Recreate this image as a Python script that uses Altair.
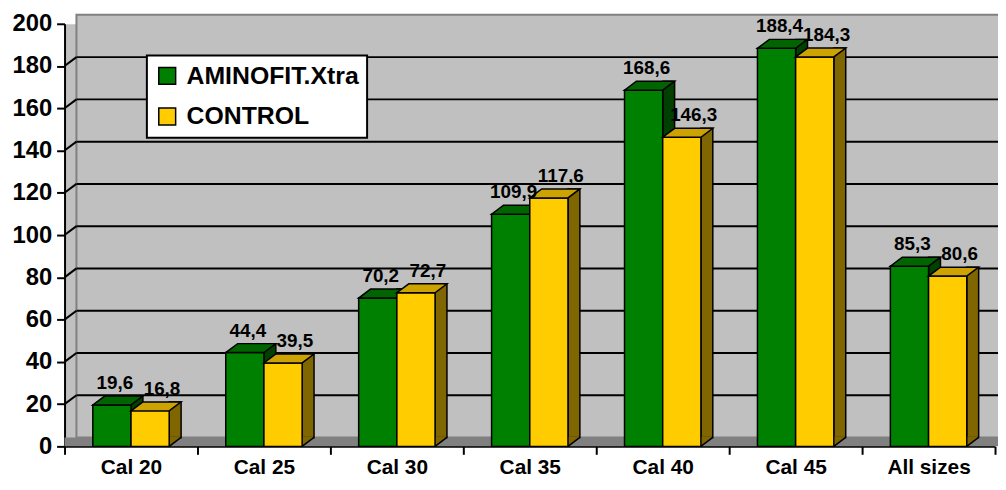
import altair as alt
import pandas as pd

# ---------------- data ----------------
categories = ["Cal 20", "Cal 25", "Cal 30", "Cal 35", "Cal 40", "Cal 45", "All sizes"]
aminofit = [19.6, 44.4, 70.2, 109.9, 168.6, 188.4, 85.3]
control = [16.8, 39.5, 72.7, 117.6, 146.3, 184.3, 80.6]
series_names = ["AMINOFIT.Xtra", "CONTROL"]
y_ticks = [0, 20, 40, 60, 80, 100, 120, 140, 160, 180, 200]
grid_ticks = [20, 40, 60, 80, 100, 120, 140, 160, 180]

# ---------------- styling ----------------
FONT = "Liberation Sans"
W, H = 938, 426
DX, DY = 12, 9          # pseudo-3D depth (px)
BW = 38.5               # bar front width (px)
HB = BW / 2

front_cols = ["#008000", "#FFCC00"]
top_cols = ["#006400", "#CCA300"]
side_cols = ["#004000", "#806600"]
label_dx = [3, 12]

rows = []
for c, a, b in zip(categories, aminofit, control):
    rows.append({"cat": c, "series": series_names[0], "value": a})
    rows.append({"cat": c, "series": series_names[1], "value": b})
df = pd.DataFrame(rows)
df["label"] = df["value"].map(lambda v: f"{v:.1f}".replace(".", ","))
df["zero"] = 0.0

grid_df = pd.DataFrame({"t": grid_ticks})
one_df = pd.DataFrame({"d": [0]})

x_scale = alt.Scale(domain=categories, paddingInner=0, paddingOuter=0)
y_scale = alt.Scale(domain=[0, 200], nice=False)
x_axis = alt.Axis(title=None, labelAngle=0, tickBand="extent", labelFontSize=21,
                  labelPadding=2, tickSize=8)
y_axis = alt.Axis(title=None, values=y_ticks, labelFontSize=24, labelPadding=5,
                  tickSize=8)


def X():
    return alt.X("cat:N", sort=categories, scale=x_scale, axis=x_axis)


def Y(field="value"):
    return alt.Y(f"{field}:Q", scale=y_scale, axis=y_axis)


# ---------------- background "3D" walls ----------------
back_wall = alt.Chart(one_df).mark_rect(
    fill="#C0C0C0", stroke="#808080", strokeWidth=2
).encode(x=alt.value(DX), x2=alt.value(W + DX), y=alt.value(-DY), y2=alt.value(H - DY))

floor = alt.Chart(one_df).mark_rect(fill="#808080").encode(
    x=alt.value(0), x2=alt.value(W + DX), y=alt.value(H - DY), y2=alt.value(H)
)

grid_rules = alt.Chart(grid_df).mark_rule(
    color="black", strokeWidth=2, yOffset=-DY
).encode(y=Y("t"), x=alt.value(DX), x2=alt.value(W + DX))

grid_diag = alt.Chart(grid_df).mark_point(
    shape=f"M0,0 L{DX},{-DY}", size=4, filled=False, stroke="black",
    strokeWidth=2, opacity=1
).encode(y=Y("t"), x=alt.value(0))

layers = [back_wall, floor, grid_rules, grid_diag]

top_path = f"M{-HB},0 L{HB},0 L{HB + DX},{-DY} L{-HB + DX},{-DY} Z"
cover_path = f"M{HB},{-DY - 1} L{HB + DX - 0.8},{-DY - 1} L{HB + DX - 0.8},{-DY} L{HB},0 Z"
diag_path = f"M{HB},0 L{HB + DX},{-DY}"

color_enc = alt.Color(
    "series:N",
    scale=alt.Scale(domain=series_names, range=front_cols),
    legend=alt.Legend(
        title=None, orient="none", legendX=83, legendY=32,
        fillColor="white", strokeColor="black", padding=8,
        symbolType="square", symbolSize=289, symbolStrokeColor="black",
        symbolStrokeWidth=1.5, symbolOpacity=1,
        labelFontSize=25, labelFontWeight="bold", labelFont=FONT,
        labelColor="black", labelLimit=0, rowPadding=15, labelOffset=7,
    ),
)

for i, s in enumerate(series_names):
    off = -HB if i == 0 else HB
    base = alt.Chart(df).transform_filter(alt.datum.series == s)
    side = base.mark_bar(
        width=DX, xOffset=off + HB + DX / 2, yOffset=-DY, y2Offset=-DY,
        fill=side_cols[i], stroke="black", strokeWidth=1.5
    ).encode(x=X(), y=Y(), y2=alt.Y2("zero:Q"))
    cover = base.mark_point(
        shape=cover_path, size=4, filled=True, fill=side_cols[i],
        strokeWidth=0, opacity=1, xOffset=off
    ).encode(x=X(), y=Y("zero"))
    diag = base.mark_point(
        shape=diag_path, size=4, filled=False, stroke="black",
        strokeWidth=1.5, opacity=1, xOffset=off
    ).encode(x=X(), y=Y("zero"))
    front = base.mark_bar(
        width=BW, xOffset=off, stroke="black", strokeWidth=1.5, opacity=1
    ).encode(x=X(), y=Y(), color=color_enc)
    top = base.mark_point(
        shape=top_path, size=4, filled=True, fill=top_cols[i],
        stroke="black", strokeWidth=1.5, opacity=1, xOffset=off
    ).encode(x=X(), y=Y())
    layers += [side, cover, diag, front, top]

for i, s in enumerate(series_names):
    off = -HB if i == 0 else HB
    txt = alt.Chart(df).transform_filter(alt.datum.series == s).mark_text(
        xOffset=off + label_dx[i], dy=-16, baseline="alphabetic", align="center",
        fontSize=19, fontWeight="bold", font=FONT, color="black"
    ).encode(x=X(), y=Y(), text="label:N")
    layers.append(txt)

chart = alt.layer(*layers).properties(
    width=W, height=H,
    autosize=alt.AutoSizeParams(type="none"),
    padding={"left": 57, "top": 14, "right": 3, "bottom": 34},
).configure(font=FONT).configure_view(
    fill="#C0C0C0", stroke="transparent"
).configure_axis(
    domainColor="black", domainWidth=2, tickColor="black", tickWidth=2,
    labelColor="black", labelFontWeight="bold", labelFont=FONT, grid=False, zindex=1
).configure_legend(strokeWidth=2)

chart.save("out.html", embed_options={"renderer": "svg", "actions": False})
